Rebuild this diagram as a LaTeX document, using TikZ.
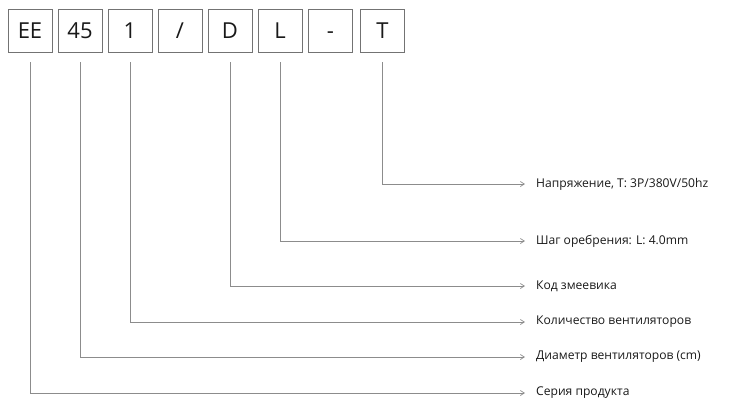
\documentclass[tikz,border=0pt]{standalone}
\usepackage{fontspec}
\setmainfont{Open Sans}
\usetikzlibrary{arrows.meta}
\begin{document}
\begin{tikzpicture}[x=1pt,y=-1pt,
  codebox/.style={draw=black!55,line width=0.7pt,minimum width=44pt,minimum height=43pt,inner sep=0pt,text height=15.7pt,text depth=0pt,font=\fontsize{22}{24}\selectfont,text=black!90},
  leader/.style={draw=black!45,line width=0.9pt,-{Straight Barb[length=4pt,width=5pt,line width=0.7pt]}},
  lbl/.style={anchor=west,inner sep=0pt,font=\fontsize{12.1}{14}\selectfont,text=black!90}]
\useasboundingbox (0,0) rectangle (732,399);
\node[codebox] (b1) at (30,30.5) {EE};
\node[codebox] (b2) at (80,30.5) {45};
\node[codebox] (b3) at (130,30.5) {1};
\node[codebox] (b4) at (180,30.5) {/};
\node[codebox] (b5) at (230,30.5) {D};
\node[codebox] (b6) at (280,30.5) {L};
\node[codebox] (b7) at (330.5,30.5) {-};
\node[codebox] (b8) at (382.5,30.5) {T};
\node[lbl] (t8) at (536,184) {Напряжение, T: 3P/380V/50hz};
\node[lbl] (t6) at (536,241) {Шаг оребрения: L: 4.0mm};
\node[lbl] (t5) at (536,286) {Код змеевика};
\node[lbl] (t3) at (536,322) {Количество вентиляторов};
\node[lbl] (t2) at (536,357) {Диаметр вентиляторов (cm)};
\node[lbl] (t1) at (536,393) {Серия продукта};
\foreach \b/\t in {b8/t8,b6/t6,b5/t5,b3/t3,b2/t2,b1/t1}{
  \draw[leader] ([yshift=-10pt]\b.south) |- ([xshift=-11pt]\t.west);
}
\end{tikzpicture}
\end{document}
